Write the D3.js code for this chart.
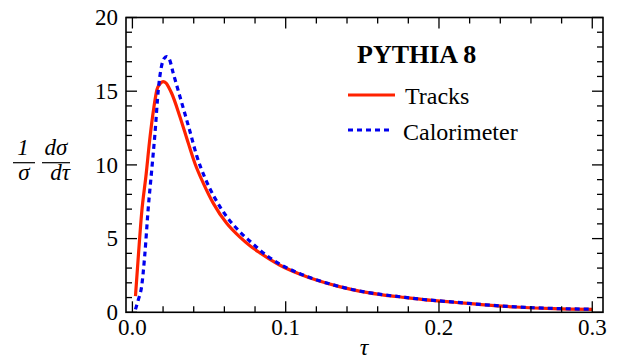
<!DOCTYPE html>
<html><head><meta charset="utf-8">
<script src="https://cdn.jsdelivr.net/npm/d3@7"></script>
<style>body{margin:0;background:#fff}svg{display:block}</style>
</head><body><svg id="c" width="623" height="356" font-family="'Liberation Serif','Times New Roman',Times,'DejaVu Serif',serif"></svg>
<script>
const tracksTau=[0.002,0.004,0.006,0.009,0.0115,0.014,0.016,0.018,0.020,0.022,0.024,0.0256,0.031,0.0365,0.0408,0.0463,0.0528,0.0615,0.070,0.0767,0.083,0.096,0.109,0.122,0.135,0.148,0.161,0.175,0.19,0.21,0.23,0.25,0.275,0.30];
const tracksVal=[1.1,4.0,6.7,9.4,11.9,13.9,15.1,15.5,15.65,15.55,15.2,14.86,13.27,11.46,10.1,8.75,7.39,6.04,5.12,4.52,4.05,3.21,2.6,2.12,1.74,1.44,1.22,1.04,0.86,0.68,0.5,0.36,0.25,0.2];
const caloTau=[0.002,0.004,0.006,0.008,0.0104,0.0126,0.0147,0.0169,0.019,0.0205,0.0224,0.024,0.0267,0.030,0.0343,0.0376,0.042,0.0474,0.0539,0.0615,0.0702,0.0767,0.0876,0.096,0.109,0.122,0.135,0.148,0.161,0.175,0.19,0.21,0.23,0.25,0.275,0.30];
const caloVal=[0.2,0.9,1.74,3.8,7.16,9.65,12.1,15.1,16.7,17.2,17.35,17.2,16.2,15.0,13.45,12.25,10.6,9.1,7.73,6.49,5.45,4.82,3.85,3.28,2.63,2.14,1.75,1.45,1.23,1.05,0.87,0.69,0.51,0.37,0.26,0.21];
const xTicks=[0.0,0.1,0.2,0.3];
const xTickLabels=["0.0","0.1","0.2","0.3"];
const yTicks=[0,5,10,15,20];
const seriesNames=["Tracks","Calorimeter"];
const seriesColors=["#ff2200","#0000ee"];
const title="PYTHIA 8";

const svg=d3.select("#c");
const L=126,R=603,T=17.5,B=312.3;
const x=d3.scaleLinear().domain([-0.00418,0.3070]).range([L,R]);
const y=d3.scaleLinear().domain([0,20]).range([B,T]);

const line=d3.line().x(d=>x(d[0])).y(d=>y(d[1])).curve(d3.curveMonotoneX);
const tr=tracksTau.map((t,i)=>[t,tracksVal[i]]);
const ca=caloTau.map((t,i)=>[t,caloVal[i]]);
svg.append("path").attr("d",line(tr)).attr("fill","none").attr("stroke",seriesColors[0]).attr("stroke-width",3.2);
svg.append("path").attr("d",line(ca)).attr("fill","none").attr("stroke",seriesColors[1]).attr("stroke-width",3.2).attr("stroke-dasharray","5,4");

// ticks
const g=svg.append("g").attr("stroke","#000").attr("stroke-width",1.3);
d3.range(0,16).map(i=>i*0.02).forEach(v=>{
  const major=Math.abs(v*10-Math.round(v*10))<1e-6;
  const len=major?11:6;
  g.append("line").attr("x1",x(v)).attr("x2",x(v)).attr("y1",B).attr("y2",B-len);
  g.append("line").attr("x1",x(v)).attr("x2",x(v)).attr("y1",T).attr("y2",T+len);
});
d3.range(0,21).forEach(v=>{
  const major=v%5===0;
  const len=major?11:6;
  g.append("line").attr("x1",L).attr("x2",L+len).attr("y1",y(v)).attr("y2",y(v));
  g.append("line").attr("x1",R).attr("x2",R-len).attr("y1",y(v)).attr("y2",y(v));
});
svg.append("rect").attr("x",L).attr("y",T).attr("width",R-L).attr("height",B-T).attr("fill","none").attr("stroke","#000").attr("stroke-width",1.6);

// tick labels
xTicks.forEach((v,i)=>svg.append("text").attr("x",x(v)).attr("y",335).attr("text-anchor","middle").attr("font-size",23).text(xTickLabels[i]));
yTicks.forEach(v=>svg.append("text").attr("x",118).attr("y",y(v)+7.8).attr("text-anchor","end").attr("font-size",23).text(v));

// axis titles
svg.append("text").attr("x",364).attr("y",355).attr("text-anchor","middle").attr("font-size",24).attr("font-style","italic").text("τ");
const yl=svg.append("g").attr("font-style","italic").attr("font-size",23);
yl.append("text").attr("x",23).attr("y",155).attr("text-anchor","middle").text("1");
yl.append("text").attr("x",24).attr("y",180).attr("text-anchor","middle").text("σ");
yl.append("line").attr("x1",13).attr("x2",35).attr("y1",162.7).attr("y2",162.7).attr("stroke","#000").attr("stroke-width",1.2);
yl.append("text").attr("x",56).attr("y",155).attr("text-anchor","middle").text("dσ");
yl.append("text").attr("x",60).attr("y",180).attr("text-anchor","middle").text("dτ");
yl.append("line").attr("x1",42).attr("x2",70).attr("y1",162.7).attr("y2",162.7).attr("stroke","#000").attr("stroke-width",1.2);

// legend
svg.append("text").attr("x",357).attr("y",63).attr("font-size",26).attr("font-weight","bold").text(title);
svg.append("line").attr("x1",348).attr("x2",395).attr("y1",95).attr("y2",95).attr("stroke",seriesColors[0]).attr("stroke-width",3.2);
svg.append("line").attr("x1",348).attr("x2",390).attr("y1",130).attr("y2",130).attr("stroke",seriesColors[1]).attr("stroke-width",3.2).attr("stroke-dasharray","5,4");
svg.append("text").attr("x",405).attr("y",104).attr("font-size",24).text(seriesNames[0]);
svg.append("text").attr("x",403).attr("y",140).attr("font-size",24).text(seriesNames[1]);
</script></body></html>
